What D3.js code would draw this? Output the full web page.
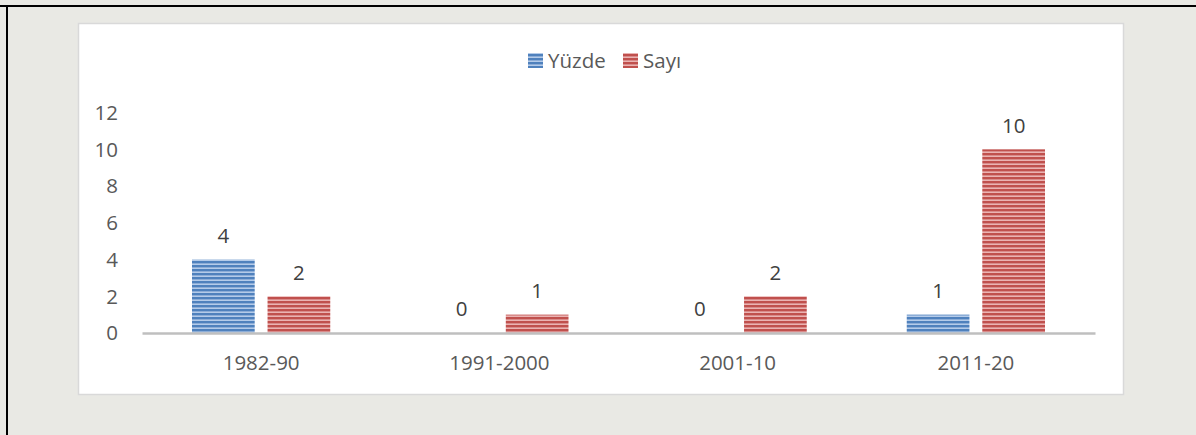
<!DOCTYPE html>
<html>
<head>
<meta charset="utf-8">
<script src="https://cdn.jsdelivr.net/npm/d3@7"></script>
<style>
  html, body { margin: 0; padding: 0; background: #e9e9e4; }
  svg { display: block; }
</style>
</head>
<body>
<div id="chart"></div>
<script>
// data
const categories = ['1982-90', '1991-2000', '2001-10', '2011-20'];
const seriesNames = ['Yüzde', 'Sayı'];
const yuzdeValues = [4, 0, 0, 1];
const sayiValues = [2, 1, 2, 10];
const yTicks = [0, 2, 4, 6, 8, 10, 12];

const width = 1196, height = 435;
const font = '"Open Sans", "Liberation Sans", sans-serif';
const textColor = '#595959';
const fontSize = '20.5px';

const svg = d3.select('#chart').append('svg')
  .attr('width', width)
  .attr('height', height);

// stripe patterns
const defs = svg.append('defs');
const patterns = [
  { id: 'stripe-blue', dark: '#4f81bd', light: '#b4cbe9' },
  { id: 'stripe-red', dark: '#c0504d', light: '#eab3b2' }
];
patterns.forEach(p => {
  const pat = defs.append('pattern')
    .attr('id', p.id)
    .attr('patternUnits', 'userSpaceOnUse')
    .attr('width', 8)
    .attr('height', 4);
  pat.append('rect').attr('width', 8).attr('height', 4).attr('fill', p.light);
  pat.append('rect').attr('y', 1).attr('width', 8).attr('height', 2.4).attr('fill', p.dark);
});

// page frame lines
svg.append('rect').attr('x', 0).attr('y', 5).attr('width', width).attr('height', 2).attr('fill', '#000');
svg.append('rect').attr('x', 6).attr('y', 5).attr('width', 2).attr('height', height).attr('fill', '#000');

// chart area
svg.append('rect')
  .attr('x', 78.5).attr('y', 23.5)
  .attr('width', 1045).attr('height', 371)
  .attr('fill', '#fff')
  .attr('stroke', '#d9d9d9')
  .attr('stroke-width', 1.5);

const plot = { left: 142, right: 1095, top: 112.6, bottom: 333 };

const x0 = d3.scaleBand()
  .domain(categories)
  .range([plot.left, plot.right]);

const x1 = d3.scaleBand()
  .domain(seriesNames)
  .range([50, x0.bandwidth() - 50])
  .paddingInner(0.17);

const y = d3.scaleLinear()
  .domain([0, 12])
  .range([plot.bottom, plot.top]);

const fills = { 'Yüzde': 'url(#stripe-blue)', 'Sayı': 'url(#stripe-red)' };

const rows = categories.map((c, i) => ({
  category: c,
  values: [
    { key: 'Yüzde', value: yuzdeValues[i] },
    { key: 'Sayı', value: sayiValues[i] }
  ]
}));

// y axis labels
svg.append('g')
  .selectAll('text')
  .data(yTicks)
  .enter().append('text')
  .attr('x', 118)
  .attr('y', d => y(d))
  .attr('dy', '0.36em')
  .attr('text-anchor', 'end')
  .attr('font-family', font)
  .attr('font-size', fontSize)
  .attr('fill', textColor)
  .text(d => d);

// bars
const groups = svg.append('g')
  .selectAll('g')
  .data(rows)
  .enter().append('g')
  .attr('transform', d => `translate(${x0(d.category)},0)`);

groups.selectAll('rect')
  .data(d => d.values)
  .enter().append('rect')
  .attr('x', d => x1(d.key))
  .attr('y', d => y(d.value))
  .attr('width', x1.bandwidth())
  .attr('height', d => y(0) - y(d.value))
  .attr('fill', d => fills[d.key]);

// data labels
groups.selectAll('text')
  .data(d => d.values)
  .enter().append('text')
  .attr('x', d => x1(d.key) + x1.bandwidth() / 2)
  .attr('y', d => y(d.value) - 24)
  .attr('dy', '0.36em')
  .attr('text-anchor', 'middle')
  .attr('font-family', font)
  .attr('font-size', fontSize)
  .attr('fill', '#404040')
  .text(d => d.value);

// x axis
const xAxis = svg.append('g')
  .attr('transform', `translate(0,${plot.bottom})`)
  .call(d3.axisBottom(x0).tickSize(0).tickPadding(22));
xAxis.select('.domain')
  .attr('stroke', '#bfbfbf')
  .attr('stroke-width', 2.5);
xAxis.selectAll('text')
  .attr('font-family', font)
  .attr('font-size', fontSize)
  .attr('fill', textColor);

// legend
const legendItems = [
  { name: 'Yüzde', x: 528 },
  { name: 'Sayı', x: 623 }
];
const legend = svg.append('g')
  .selectAll('g')
  .data(legendItems)
  .enter().append('g')
  .attr('transform', d => `translate(${d.x},53)`);

legend.append('rect')
  .attr('width', 15)
  .attr('height', 15)
  .attr('fill', d => fills[d.name]);

legend.append('text')
  .attr('x', 20)
  .attr('y', 8)
  .attr('dy', '0.36em')
  .attr('font-family', font)
  .attr('font-size', fontSize)
  .attr('fill', textColor)
  .text(d => d.name);
</script>
</body>
</html>
